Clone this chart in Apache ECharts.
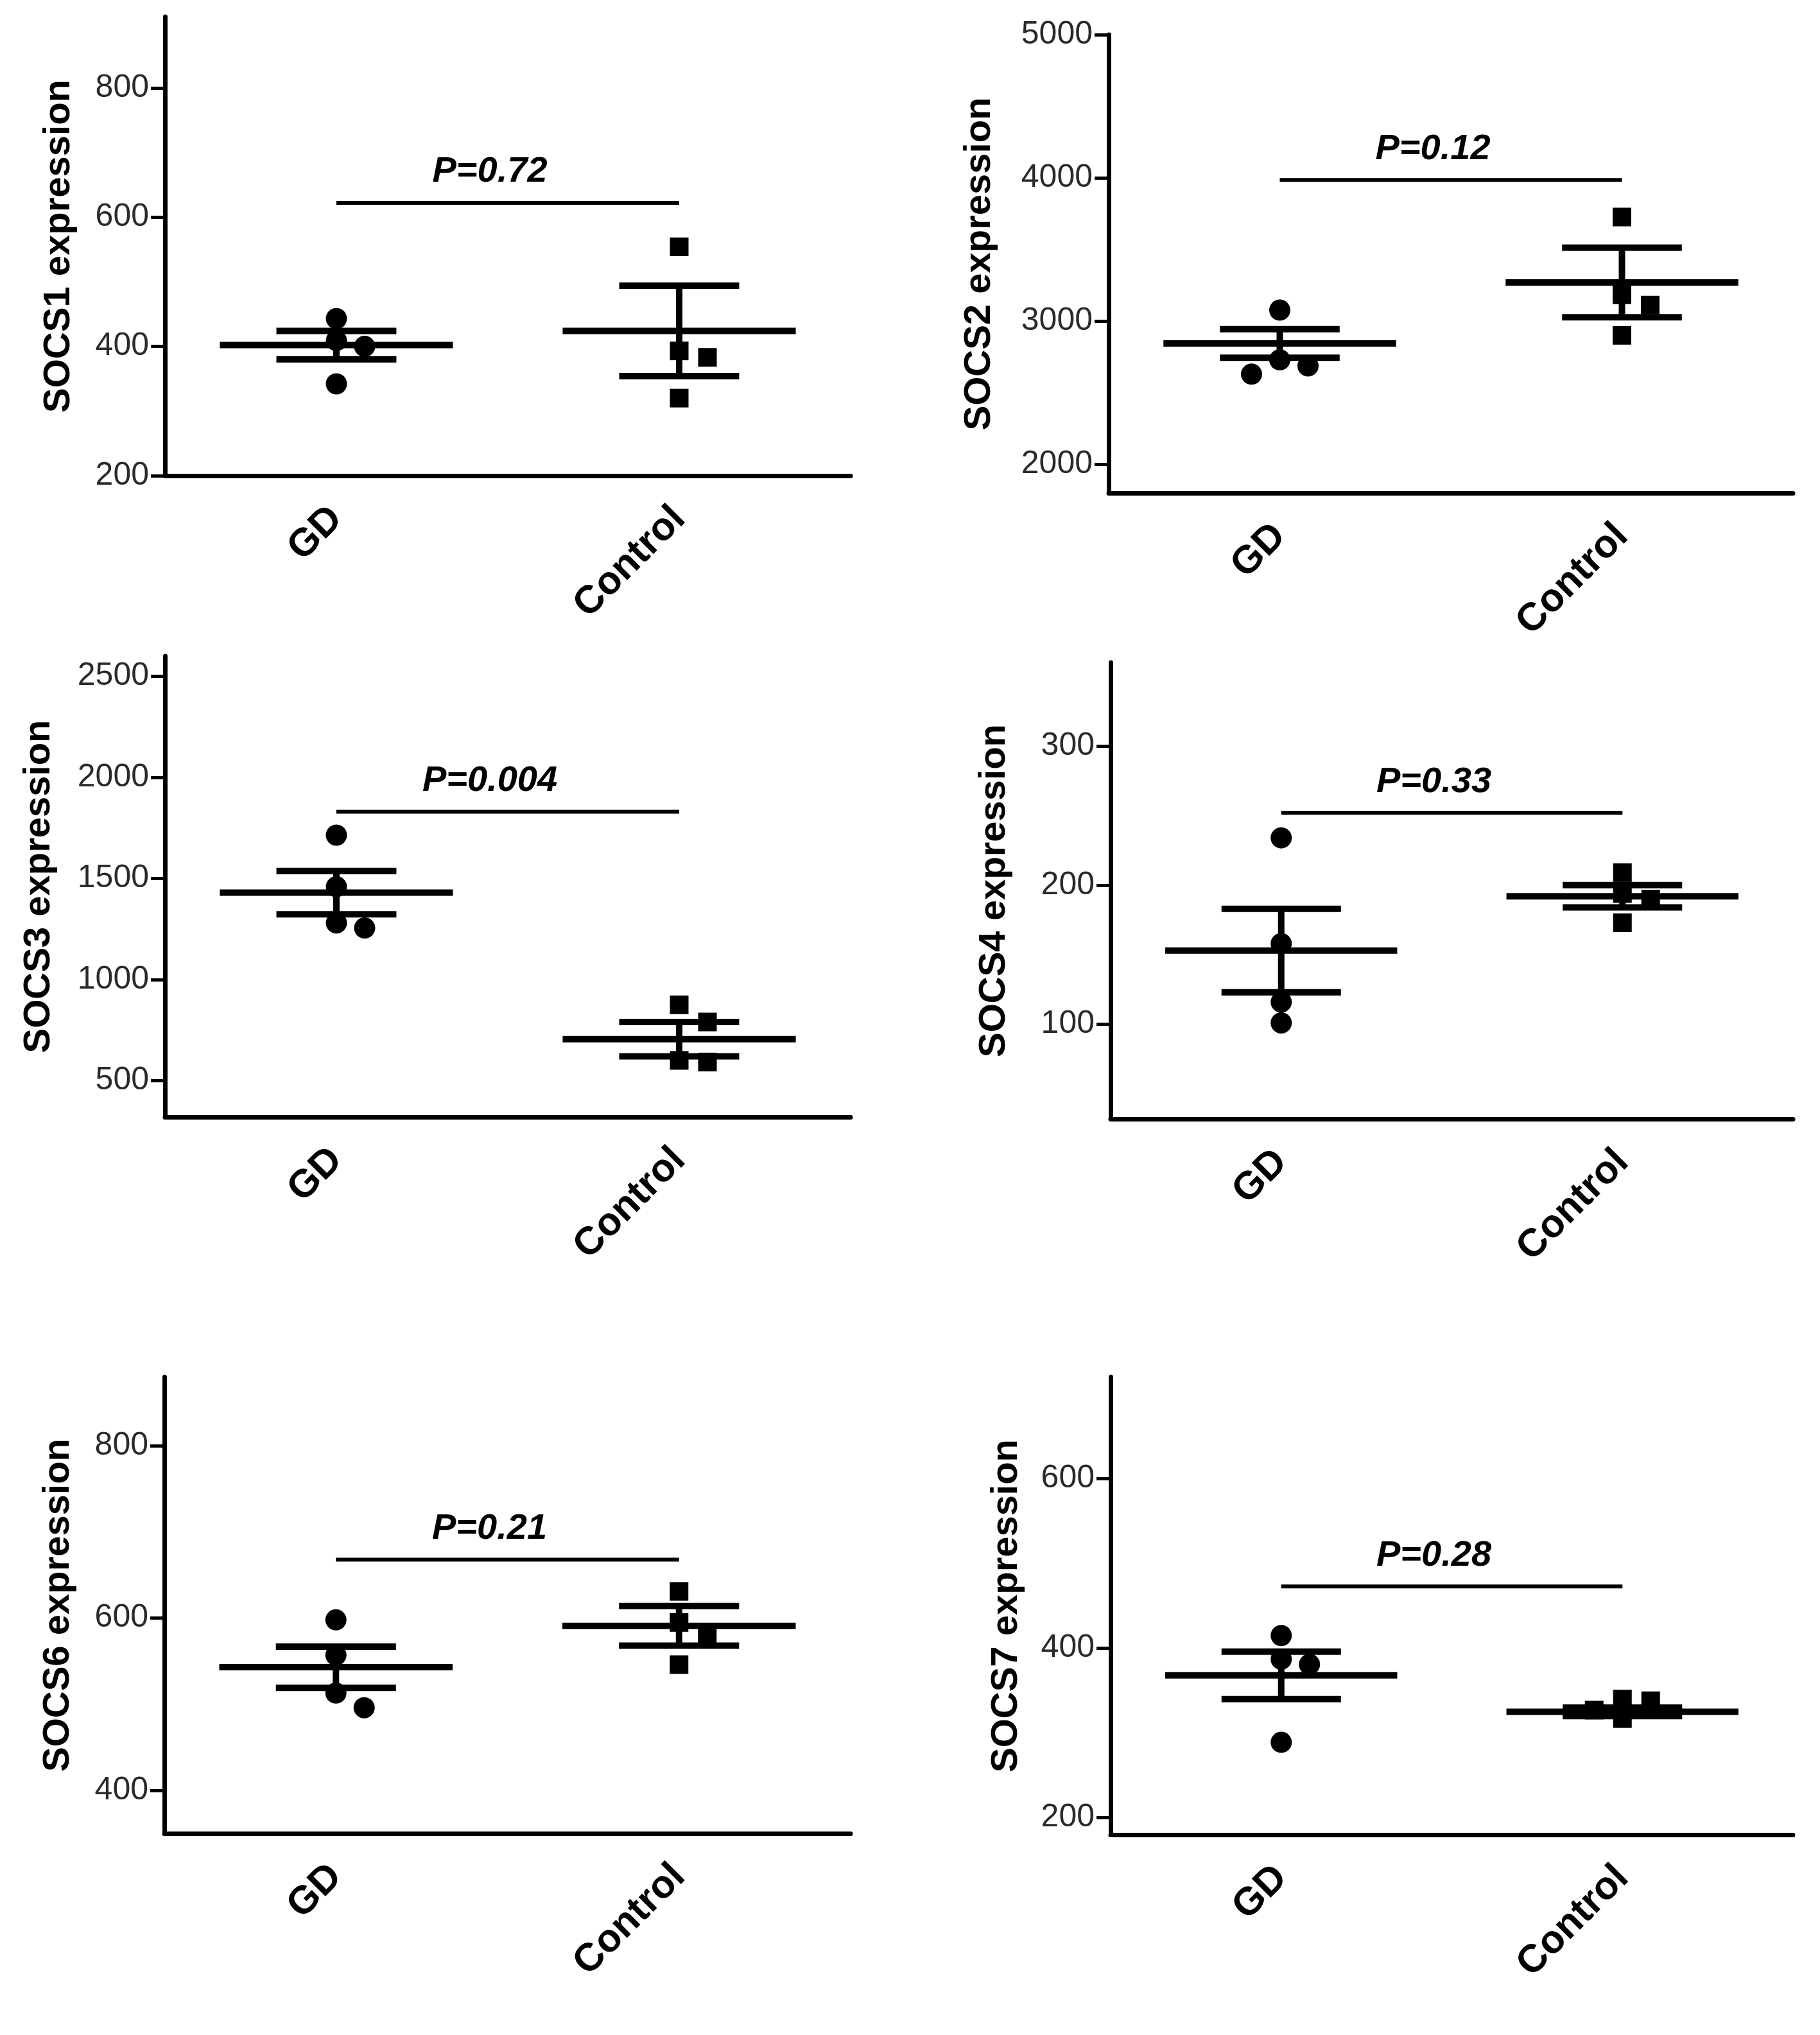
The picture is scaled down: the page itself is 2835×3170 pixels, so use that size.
<!DOCTYPE html>
<html><head><meta charset="utf-8">
<script src="https://cdn.jsdelivr.net/npm/echarts@6/dist/echarts.min.js"></script>
<style>html,body{margin:0;padding:0;background:#fff}#c{width:2835px;height:3170px}</style>
</head><body><div id="c"></div>
<script>
// ---- data ----
const categories = ['GD', 'Control'];
const yNames = ['SOCS1 expression', 'SOCS2 expression', 'SOCS3 expression',
                'SOCS4 expression', 'SOCS6 expression', 'SOCS7 expression'];
const gdPoints = [
  [443, 409, 400, 342],
  [3077, 2730, 2687, 2630],
  [1714, 1459, 1280, 1255],
  [234, 158, 116, 101],
  [598, 557, 513, 496],
  [415, 387, 381, 289]
];
const controlPoints = [
  [554, 393, 383, 320],
  [3727, 3184, 3112, 2901],
  [875, 790, 600, 592],
  [209, 194, 190, 173],
  [631, 595, 582, 546],
  [340, 338, 327, 317]
];
const gdMean = [402, 2844, 1430, 153, 543, 368];
const gdSem = [22, 100, 107, 30, 24, 28];
const controlMean = [424, 3270, 705, 192, 591, 325];
const controlSem = [70, 243, 85, 8, 23, 5];
const pLabels = ['P=0.72', 'P=0.12', 'P=0.004', 'P=0.33', 'P=0.21', 'P=0.28'];
const pBarLevel = [622, 3986, 1830, 252, 668, 473];
const yMin = [200, 1800, 320, 32, 350, 180];
const yMax = [910, 5000, 2600, 360, 880, 720];
const yTicks = [
  [200, 400, 600, 800],
  [2000, 3000, 4000, 5000],
  [500, 1000, 1500, 2000, 2500],
  [100, 200, 300],
  [400, 600, 800],
  [200, 400, 600]
];

// ---- layout ----
const FONT = 'Liberation Sans, Arial, sans-serif';
const grids = [
  {left: 257,  top: 26,   width: 1068, height: 715},
  {left: 1727, top: 54,   width: 1066, height: 714},
  {left: 257,  top: 1022, width: 1068, height: 718},
  {left: 1730, top: 1032, width: 1063, height: 711},
  {left: 256,  top: 2145, width: 1069, height: 711},
  {left: 1730, top: 2145, width: 1063, height: 713}
];
const nameGaps = [136, 172, 167, 152, 136, 133];

function swarm(vals, pxPerUnit) {
  const placed = [], offs = [];
  const d = 44, lim = 30;
  vals.forEach(v => {
    const y = v * pxPerUnit;
    for (const dx of [0, d, -d, 2 * d, -2 * d, 3 * d]) {
      if (placed.every(p => Math.abs(p.x - dx) >= lim || Math.abs(p.y - y) >= lim)) {
        placed.push({x: dx, y}); offs.push(dx); break;
      }
    }
  });
  return offs;
}

const xAxes = [], yAxes = [], series = [];
grids.forEach((g, i) => {
  xAxes.push({
    type: 'category', gridIndex: i, data: categories, boundaryGap: true,
    axisLine: {onZero: false, lineStyle: {color: '#000', width: 7, cap: 'round'}},
    axisTick: {alignWithLabel: true, length: 34, lineStyle: {color: '#000', width: 6}},
    axisLabel: {rotate: 45, fontSize: 61, fontWeight: 'bold', color: '#000', margin: 58, fontFamily: FONT},
    splitLine: {show: false}
  });
  yAxes.push({
    type: 'value', gridIndex: i, min: yMin[i], max: yMax[i],
    axisLine: {show: true, lineStyle: {color: '#000', width: 7, cap: 'round'}},
    axisTick: {show: true, length: 22, customValues: yTicks[i], lineStyle: {color: '#000', width: 5}},
    axisLabel: {customValues: yTicks[i], fontSize: 50, color: '#2a2a2a', margin: 25, fontFamily: FONT,
                formatter: v => String(v)},
    splitLine: {show: false},
    name: yNames[i], nameLocation: 'middle', nameGap: nameGaps[i],
    nameTextStyle: {fontSize: 58, fontWeight: 'bold', color: '#000', fontFamily: FONT}
  });
  const ppu = g.height / (yMax[i] - yMin[i]);
  const gOff = swarm(gdPoints[i], ppu);
  const cOff = swarm(controlPoints[i], ppu);
  series.push({
    type: 'scatter', xAxisIndex: i, yAxisIndex: i, symbol: 'circle', symbolSize: 33,
    itemStyle: {color: '#000', opacity: 1}, z: 2, silent: true,
    data: gdPoints[i].map((v, k) => ({value: [0, v], symbolOffset: [gOff[k], 0]}))
  });
  series.push({
    type: 'scatter', xAxisIndex: i, yAxisIndex: i, symbol: 'rect', symbolSize: 29,
    itemStyle: {color: '#000', opacity: 1}, z: 2, silent: true,
    data: controlPoints[i].map((v, k) => ({value: [1, v], symbolOffset: [cOff[k], 0]}))
  });
  series.push({
    type: 'custom', xAxisIndex: i, yAxisIndex: i, z: 3, silent: true, clip: false,
    data: [[0, gdMean[i], gdSem[i]], [1, controlMean[i], controlSem[i]]],
    renderItem: function (params, api) {
      const cat = api.value(0), m = api.value(1), s = api.value(2);
      const c = api.coord([cat, m]);
      const t = api.coord([cat, m + s]);
      const b = api.coord([cat, m - s]);
      const band = api.size([1, 0])[0];
      const mw = band * 0.34, cw = band * 0.175;
      const st = {stroke: '#000', lineWidth: 10};
      return {type: 'group', children: [
        {type: 'line', shape: {x1: c[0] - mw, y1: c[1], x2: c[0] + mw, y2: c[1]}, style: st},
        {type: 'line', shape: {x1: c[0], y1: t[1], x2: c[0], y2: b[1]}, style: st},
        {type: 'line', shape: {x1: c[0] - cw, y1: t[1], x2: c[0] + cw, y2: t[1]}, style: st},
        {type: 'line', shape: {x1: c[0] - cw, y1: b[1], x2: c[0] + cw, y2: b[1]}, style: st}
      ]};
    }
  });
  series.push({
    type: 'custom', xAxisIndex: i, yAxisIndex: i, z: 3, silent: true, clip: false,
    data: [[0, pBarLevel[i]]],
    renderItem: function (params, api) {
      const lvl = api.value(1);
      const a = api.coord([0, lvl]);
      const b = api.coord([1, lvl]);
      return {type: 'group', children: [
        {type: 'line', shape: {x1: a[0], y1: a[1], x2: b[0], y2: b[1]}, style: {stroke: '#000', lineWidth: 6}},
        {type: 'text', x: (a[0] + b[0]) / 2 - 28, y: a[1] - 20,
         style: {text: pLabels[i], fill: '#000', font: 'italic bold 56px ' + FONT, align: 'center', verticalAlign: 'bottom'}}
      ]};
    }
  });
});

const chart = echarts.init(document.getElementById('c'), null, {renderer: 'canvas', width: 2835, height: 3170});
chart.setOption({
  backgroundColor: '#fff',
  animation: false,
  grid: grids,
  xAxis: xAxes,
  yAxis: yAxes,
  series: series
});
</script>
</body></html>
